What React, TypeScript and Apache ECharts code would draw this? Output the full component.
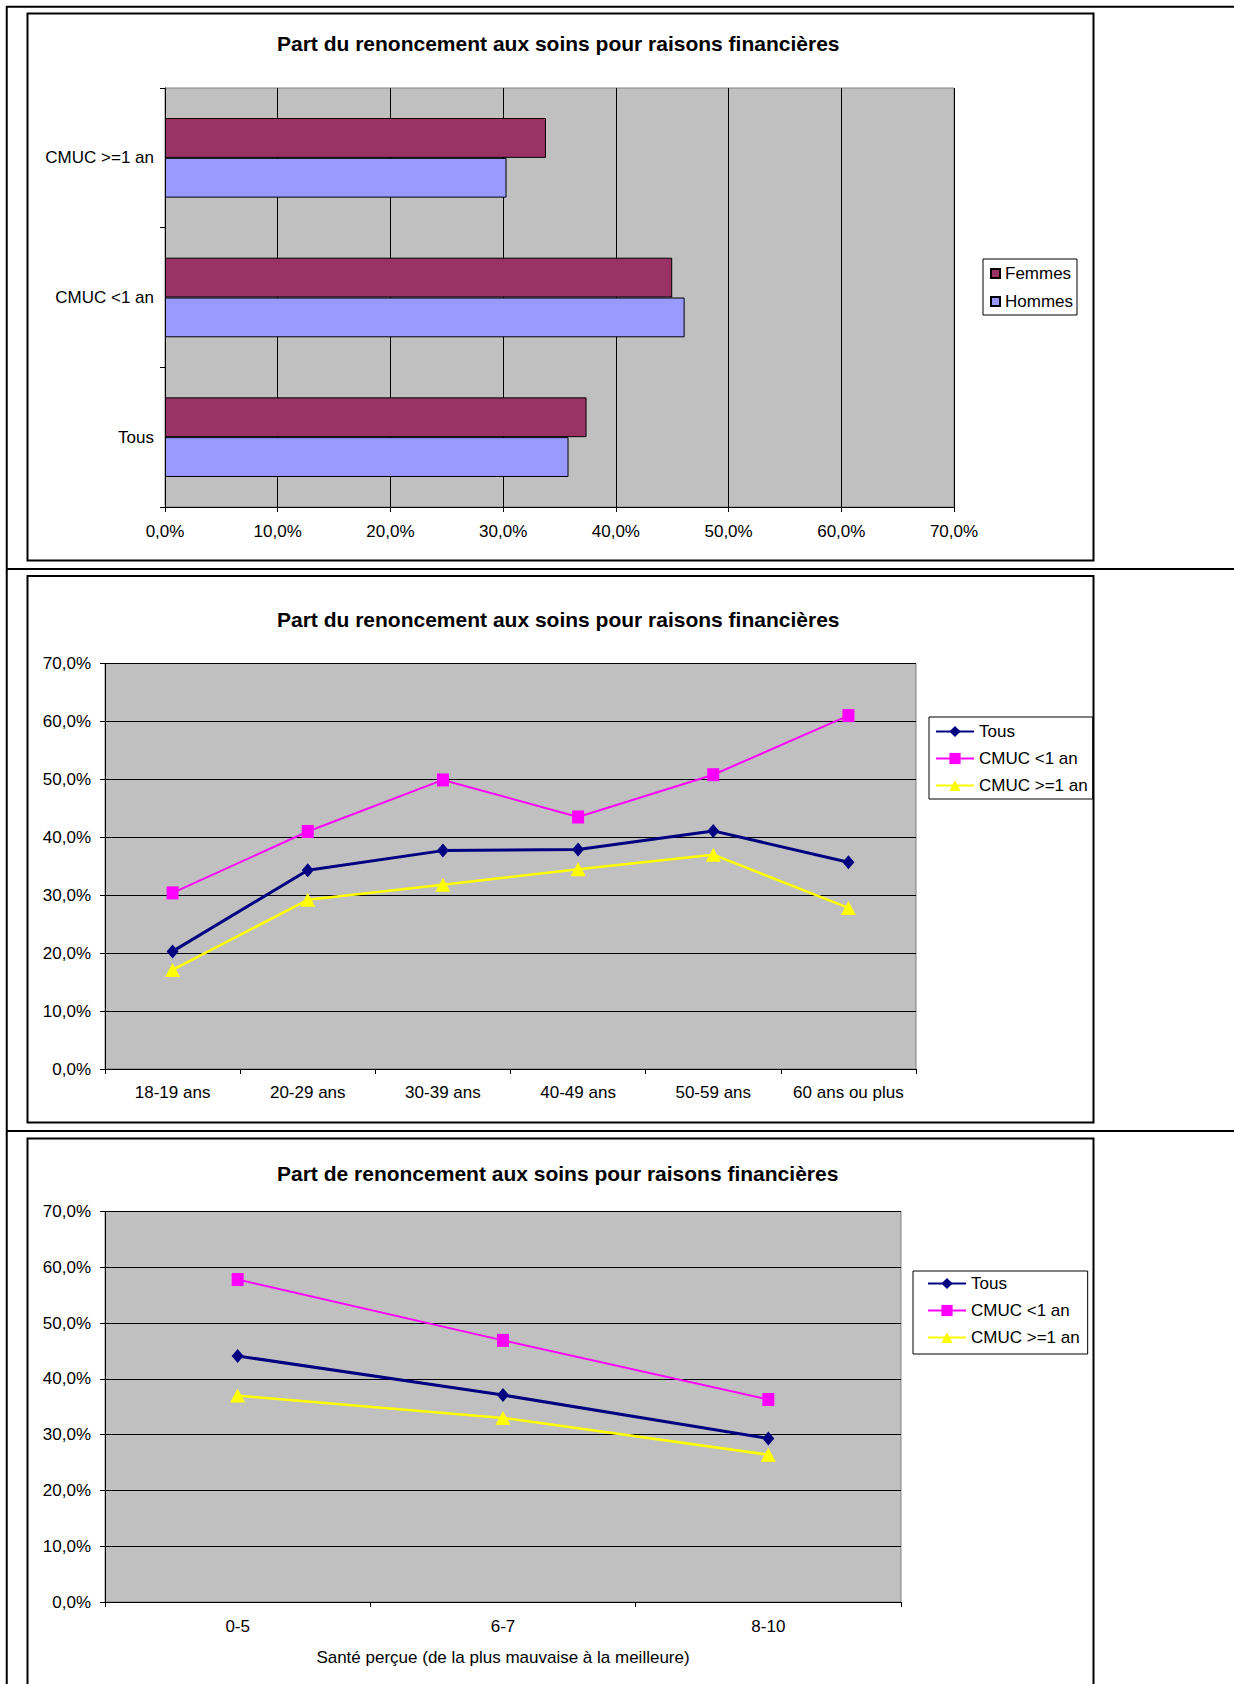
import React, { useEffect, useRef } from 'react';
import * as echarts from 'echarts';

// ---- Chart 1 data (horizontal bars) ----
const barCategories = ['Tous', 'CMUC <1 an', 'CMUC >=1 an'];
const femmesValues = [37.4, 45.0, 33.8];
const hommesValues = [35.8, 46.1, 30.3];

// ---- Chart 2 data (by age) ----
const ageCategories = ['18-19 ans', '20-29 ans', '30-39 ans', '40-49 ans', '50-59 ans', '60 ans ou plus'];
const tousAge = [20.3, 34.3, 37.7, 37.9, 41.1, 35.7];
const cmucMoinsAge = [30.4, 41.0, 49.9, 43.5, 50.8, 61.0];
const cmucPlusAge = [17.1, 29.2, 31.8, 34.5, 37.0, 27.8];

// ---- Chart 3 data (by perceived health) ----
const santeCategories = ['0-5', '6-7', '8-10'];
const tousSante = [44.1, 37.1, 29.3];
const cmucMoinsSante = [57.8, 46.9, 36.3];
const cmucPlusSante = [37.0, 33.0, 26.4];

const seriesNames = ['Tous', 'CMUC <1 an', 'CMUC >=1 an'];
const titles = [
  'Part du renoncement aux soins pour raisons financières',
  'Part du renoncement aux soins pour raisons financières',
  'Part de renoncement aux soins pour raisons financières',
];
const xAxisName3 = 'Santé perçue (de la plus mauvaise à la meilleure)';

const FONT = 'Liberation Sans, Arial, Helvetica, sans-serif';
const fmt = (v: number) => v.toFixed(1).replace('.', ',') + '%';

const axisLabel = { fontSize: 17, color: '#000', fontFamily: FONT };
const blackLine = { lineStyle: { color: '#000', width: 1 } };

function valueAxis(gridIndex: number, margin: number) {
  return {
    type: 'value',
    gridIndex,
    min: 0,
    max: 70,
    interval: 10,
    axisLine: { show: true, ...blackLine },
    axisTick: { show: true, inside: false, length: 5, ...blackLine },
    splitLine: { show: true, lineStyle: { color: '#000', width: 1 } },
    axisLabel: { ...axisLabel, margin, formatter: fmt },
  };
}

function categoryAxis(gridIndex: number, data: string[], margin: number) {
  return {
    type: 'category',
    gridIndex,
    data,
    boundaryGap: true,
    axisLine: { show: true, ...blackLine },
    axisTick: { show: true, inside: false, length: 5, alignWithLabel: false, interval: 0, ...blackLine },
    splitLine: { show: false },
    axisLabel: { ...axisLabel, margin, interval: 0 },
  };
}

const lineStyles = [
  { color: '#000080', symbol: 'diamond', size: [12, 14], width: 3 },
  { color: '#FF00FF', symbol: 'rect', size: [12, 13], width: 2 },
  { color: '#FFFF00', symbol: 'triangle', size: [15, 14], width: 2.5 },
];

function lineSeries(name: string, idx: number, data: number[], axisIndex: number) {
  const s = lineStyles[idx];
  return {
    type: 'line',
    name,
    xAxisIndex: axisIndex,
    yAxisIndex: axisIndex,
    data,
    symbol: s.symbol,
    symbolSize: s.size,
    showAllSymbol: true,
    lineStyle: { color: s.color, width: s.width },
    itemStyle: { color: s.color, borderWidth: 0 },
    z: 3 + (2 - idx),
  };
}

function legendBox(left: number, top: number, padding: number[], itemGap: number, data: any[], iw: number, ih: number) {
  return {
    orient: 'vertical',
    left,
    top,
    padding,
    itemGap,
    itemWidth: iw,
    itemHeight: ih,
    data,
    backgroundColor: '#fff',
    borderColor: '#000',
    borderWidth: 1,
    borderRadius: 0,
    selectedMode: false,
    textStyle: { fontSize: 17, color: '#000', fontFamily: FONT, padding: [0, 0, 0, 0] },
  };
}

export default function App() {
  const ref = useRef<HTMLDivElement>(null);
  useEffect(() => {
    if (!ref.current) return;
    const chart = echarts.init(ref.current, null, { renderer: 'svg' });
    const option: any = {
      animation: false,
      backgroundColor: '#fff',
      textStyle: { fontFamily: FONT },
      title: [
        { text: titles[0], left: 277, top: 33, padding: 0, textStyle: { fontSize: 21, fontWeight: 'bold', color: '#000', fontFamily: FONT } },
        { text: titles[1], left: 277, top: 609, padding: 0, textStyle: { fontSize: 21, fontWeight: 'bold', color: '#000', fontFamily: FONT } },
        { text: titles[2], left: 277, top: 1163, padding: 0, textStyle: { fontSize: 21, fontWeight: 'bold', color: '#000', fontFamily: FONT } },
      ],
      legend: [
        legendBox(983, 259, [6, 4, 5, 7], 11, [
          { name: 'Femmes', icon: 'rect' },
          { name: 'Hommes', icon: 'rect' },
        ], 9, 9),
        legendBox(929, 717, [6, 5, 5, 6], 10, seriesNames, 38, 14),
        legendBox(913, 1271, [4, 8, 8, 14], 10, seriesNames, 38, 14),
      ],
      grid: [
        { left: 165, top: 88, width: 789, height: 419, show: true, backgroundColor: '#C0C0C0', borderColor: '#808080', borderWidth: 1, containLabel: false },
        { left: 105, top: 663.5, width: 811, height: 405.5, show: true, backgroundColor: '#C0C0C0', borderColor: '#808080', borderWidth: 1, containLabel: false },
        { left: 105, top: 1211.5, width: 796, height: 390.5, show: true, backgroundColor: '#C0C0C0', borderColor: '#808080', borderWidth: 1, containLabel: false },
      ],
      xAxis: [
        valueAxis(0, 16),
        categoryAxis(1, ageCategories, 15),
        {
          ...categoryAxis(2, santeCategories, 16),
          name: xAxisName3,
          nameLocation: 'middle',
          nameGap: 47,
          nameTextStyle: { fontSize: 17, color: '#000', fontFamily: FONT },
        },
      ],
      yAxis: [
        { ...categoryAxis(0, barCategories, 11) },
        { ...valueAxis(1, 14) },
        { ...valueAxis(2, 14) },
      ],
      series: [
        {
          type: 'bar',
          name: 'Femmes',
          xAxisIndex: 0,
          yAxisIndex: 0,
          data: femmesValues,
          barGap: '0%',
          barCategoryGap: '43%',
          itemStyle: { color: '#993366', borderColor: '#000', borderWidth: 1 },
        },
        {
          type: 'bar',
          name: 'Hommes',
          xAxisIndex: 0,
          yAxisIndex: 0,
          data: hommesValues,
          barGap: '0%',
          barCategoryGap: '43%',
          itemStyle: { color: '#9999FF', borderColor: '#000', borderWidth: 1 },
        },
        lineSeries(seriesNames[0], 0, tousAge, 1),
        lineSeries(seriesNames[1], 1, cmucMoinsAge, 1),
        lineSeries(seriesNames[2], 2, cmucPlusAge, 1),
        lineSeries(seriesNames[0], 0, tousSante, 2),
        lineSeries(seriesNames[1], 1, cmucMoinsSante, 2),
        lineSeries(seriesNames[2], 2, cmucPlusSante, 2),
      ],
      graphic: [
        { type: 'line', shape: { x1: 6, y1: 6.75, x2: 1234, y2: 6.75 }, style: { stroke: '#000', lineWidth: 2 } },
        { type: 'line', shape: { x1: 6, y1: 569, x2: 1234, y2: 569 }, style: { stroke: '#000', lineWidth: 2 } },
        { type: 'line', shape: { x1: 6, y1: 1131, x2: 1234, y2: 1131 }, style: { stroke: '#000', lineWidth: 2 } },
        { type: 'line', shape: { x1: 6.75, y1: 6, x2: 6.75, y2: 1684 }, style: { stroke: '#000', lineWidth: 2 } },
        { type: 'rect', shape: { x: 27.5, y: 13.5, width: 1066, height: 547 }, style: { fill: 'none', stroke: '#000', lineWidth: 2 } },
        { type: 'rect', shape: { x: 27.5, y: 576, width: 1066, height: 546.5 }, style: { fill: 'none', stroke: '#000', lineWidth: 2 } },
        { type: 'rect', shape: { x: 27.5, y: 1138.5, width: 1066, height: 548 }, style: { fill: 'none', stroke: '#000', lineWidth: 2 } },
      ],
    };
    chart.setOption(option);
    return () => chart.dispose();
  }, []);
  return (
    <div
      ref={ref}
      style={{ position: 'absolute', left: 0, top: 0, width: 1234, height: 1684, background: '#fff' }}
    />
  );
}
